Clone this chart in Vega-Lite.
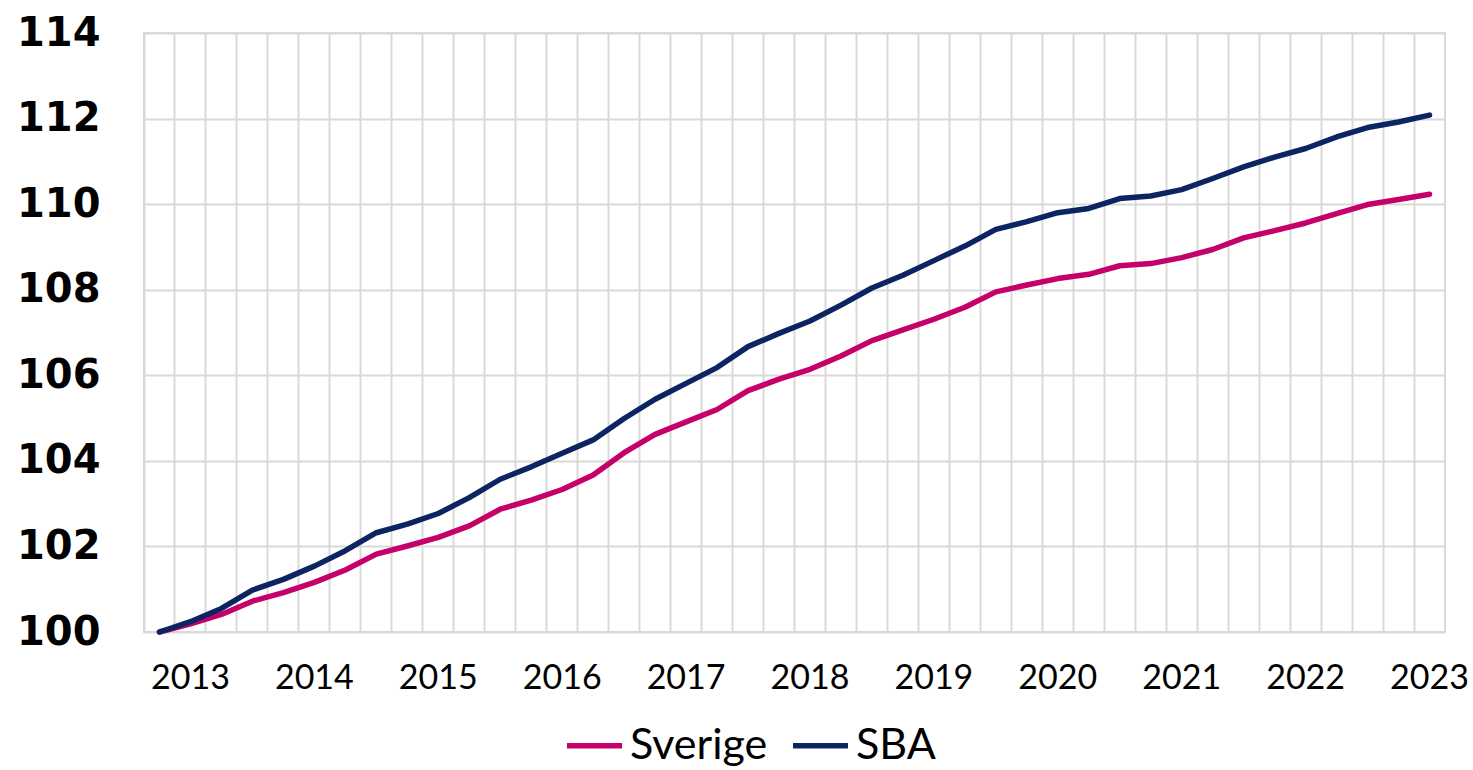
{
  "$schema": "https://vega.github.io/schema/vega-lite/v6.json",
  "width": 1301,
  "height": 599,
  "autosize": {"type": "none"},
  "padding": {"left": 144, "top": 33, "right": 28, "bottom": 138},
  "background": "white",
  "config": {
    "view": {"stroke": "#d9d9d9", "strokeWidth": 2},
    "axis": {"gridColor": "#d9d9d9", "gridWidth": 2, "domain": false, "ticks": false}
  },
  "data": {
    "values": [
      {"q": "2012Q4", "serie": "Sverige", "v": 100.0},
      {"q": "2013Q1", "serie": "Sverige", "v": 100.19},
      {"q": "2013Q2", "serie": "Sverige", "v": 100.41},
      {"q": "2013Q3", "serie": "Sverige", "v": 100.72},
      {"q": "2013Q4", "serie": "Sverige", "v": 100.92},
      {"q": "2014Q1", "serie": "Sverige", "v": 101.16},
      {"q": "2014Q2", "serie": "Sverige", "v": 101.45},
      {"q": "2014Q3", "serie": "Sverige", "v": 101.82},
      {"q": "2014Q4", "serie": "Sverige", "v": 102.01},
      {"q": "2015Q1", "serie": "Sverige", "v": 102.21},
      {"q": "2015Q2", "serie": "Sverige", "v": 102.48},
      {"q": "2015Q3", "serie": "Sverige", "v": 102.87},
      {"q": "2015Q4", "serie": "Sverige", "v": 103.08},
      {"q": "2016Q1", "serie": "Sverige", "v": 103.33},
      {"q": "2016Q2", "serie": "Sverige", "v": 103.67},
      {"q": "2016Q3", "serie": "Sverige", "v": 104.19},
      {"q": "2016Q4", "serie": "Sverige", "v": 104.62},
      {"q": "2017Q1", "serie": "Sverige", "v": 104.91},
      {"q": "2017Q2", "serie": "Sverige", "v": 105.2},
      {"q": "2017Q3", "serie": "Sverige", "v": 105.64},
      {"q": "2017Q4", "serie": "Sverige", "v": 105.91},
      {"q": "2018Q1", "serie": "Sverige", "v": 106.14},
      {"q": "2018Q2", "serie": "Sverige", "v": 106.45},
      {"q": "2018Q3", "serie": "Sverige", "v": 106.81},
      {"q": "2018Q4", "serie": "Sverige", "v": 107.06},
      {"q": "2019Q1", "serie": "Sverige", "v": 107.31},
      {"q": "2019Q2", "serie": "Sverige", "v": 107.59},
      {"q": "2019Q3", "serie": "Sverige", "v": 107.95},
      {"q": "2019Q4", "serie": "Sverige", "v": 108.11},
      {"q": "2020Q1", "serie": "Sverige", "v": 108.26},
      {"q": "2020Q2", "serie": "Sverige", "v": 108.36},
      {"q": "2020Q3", "serie": "Sverige", "v": 108.56},
      {"q": "2020Q4", "serie": "Sverige", "v": 108.61},
      {"q": "2021Q1", "serie": "Sverige", "v": 108.75},
      {"q": "2021Q2", "serie": "Sverige", "v": 108.94},
      {"q": "2021Q3", "serie": "Sverige", "v": 109.21},
      {"q": "2021Q4", "serie": "Sverige", "v": 109.38},
      {"q": "2022Q1", "serie": "Sverige", "v": 109.56},
      {"q": "2022Q2", "serie": "Sverige", "v": 109.78},
      {"q": "2022Q3", "serie": "Sverige", "v": 109.99},
      {"q": "2022Q4", "serie": "Sverige", "v": 110.11},
      {"q": "2023Q1", "serie": "Sverige", "v": 110.23},
      {"q": "2012Q4", "serie": "SBA", "v": 100.0},
      {"q": "2013Q1", "serie": "SBA", "v": 100.24},
      {"q": "2013Q2", "serie": "SBA", "v": 100.55},
      {"q": "2013Q3", "serie": "SBA", "v": 100.98},
      {"q": "2013Q4", "serie": "SBA", "v": 101.23},
      {"q": "2014Q1", "serie": "SBA", "v": 101.54},
      {"q": "2014Q2", "serie": "SBA", "v": 101.9},
      {"q": "2014Q3", "serie": "SBA", "v": 102.32},
      {"q": "2014Q4", "serie": "SBA", "v": 102.52},
      {"q": "2015Q1", "serie": "SBA", "v": 102.77},
      {"q": "2015Q2", "serie": "SBA", "v": 103.14},
      {"q": "2015Q3", "serie": "SBA", "v": 103.57},
      {"q": "2015Q4", "serie": "SBA", "v": 103.86},
      {"q": "2016Q1", "serie": "SBA", "v": 104.18},
      {"q": "2016Q2", "serie": "SBA", "v": 104.49},
      {"q": "2016Q3", "serie": "SBA", "v": 104.99},
      {"q": "2016Q4", "serie": "SBA", "v": 105.44},
      {"q": "2017Q1", "serie": "SBA", "v": 105.81},
      {"q": "2017Q2", "serie": "SBA", "v": 106.18},
      {"q": "2017Q3", "serie": "SBA", "v": 106.67},
      {"q": "2017Q4", "serie": "SBA", "v": 106.98},
      {"q": "2018Q1", "serie": "SBA", "v": 107.27},
      {"q": "2018Q2", "serie": "SBA", "v": 107.64},
      {"q": "2018Q3", "serie": "SBA", "v": 108.04},
      {"q": "2018Q4", "serie": "SBA", "v": 108.34},
      {"q": "2019Q1", "serie": "SBA", "v": 108.68},
      {"q": "2019Q2", "serie": "SBA", "v": 109.02},
      {"q": "2019Q3", "serie": "SBA", "v": 109.41},
      {"q": "2019Q4", "serie": "SBA", "v": 109.59},
      {"q": "2020Q1", "serie": "SBA", "v": 109.8},
      {"q": "2020Q2", "serie": "SBA", "v": 109.9},
      {"q": "2020Q3", "serie": "SBA", "v": 110.13},
      {"q": "2020Q4", "serie": "SBA", "v": 110.19},
      {"q": "2021Q1", "serie": "SBA", "v": 110.34},
      {"q": "2021Q2", "serie": "SBA", "v": 110.6},
      {"q": "2021Q3", "serie": "SBA", "v": 110.87},
      {"q": "2021Q4", "serie": "SBA", "v": 111.1},
      {"q": "2022Q1", "serie": "SBA", "v": 111.3},
      {"q": "2022Q2", "serie": "SBA", "v": 111.57},
      {"q": "2022Q3", "serie": "SBA", "v": 111.79},
      {"q": "2022Q4", "serie": "SBA", "v": 111.92},
      {"q": "2023Q1", "serie": "SBA", "v": 112.08}
    ]
  },
  "mark": {"type": "line", "strokeWidth": 5.5, "strokeCap": "round", "strokeJoin": "round"},
  "encoding": {
    "x": {
      "field": "q",
      "type": "ordinal",
      "bandPosition": 0.5,
      "scale": {"type": "band", "paddingInner": 0, "paddingOuter": 0},
      "axis": {
        "title": null,
        "grid": true,
        "bandPosition": 0,
        "labelAngle": 0,
        "labelExpr": "indexof(datum.value, 'Q1') > 0 ? slice(datum.value, 0, 4) : ''",
        "labelFont": "Lato",
        "labelFontSize": 34,
        "labelColor": "#000000",
        "labelPadding": 29,
        "labelOverlap": false,
        "labelBound": false
      }
    },
    "y": {
      "field": "v",
      "type": "quantitative",
      "scale": {"domain": [100, 114], "nice": false, "zero": false},
      "axis": {
        "title": null,
        "values": [100, 102, 104, 106, 108, 110, 112, 114],
        "grid": true,
        "labelFont": "DejaVu Sans",
        "labelFontWeight": "bold",
        "labelFontSize": 40,
        "labelColor": "#000000",
        "labelPadding": 44
      }
    },
    "color": {
      "field": "serie",
      "type": "nominal",
      "sort": ["Sverige", "SBA"],
      "scale": {"domain": ["Sverige", "SBA"], "range": ["#C5006B", "#0C2461"]},
      "legend": {
        "title": null,
        "orient": "none",
        "direction": "horizontal",
        "legendX": 420,
        "legendY": 682,
        "symbolType": "stroke",
        "symbolSize": 3025,
        "symbolStrokeWidth": 5.5,
        "labelFont": "Lato",
        "labelFontSize": 43,
        "labelColor": "#000000",
        "labelOffset": 5,
        "columnPadding": 14
      }
    }
  }
}
